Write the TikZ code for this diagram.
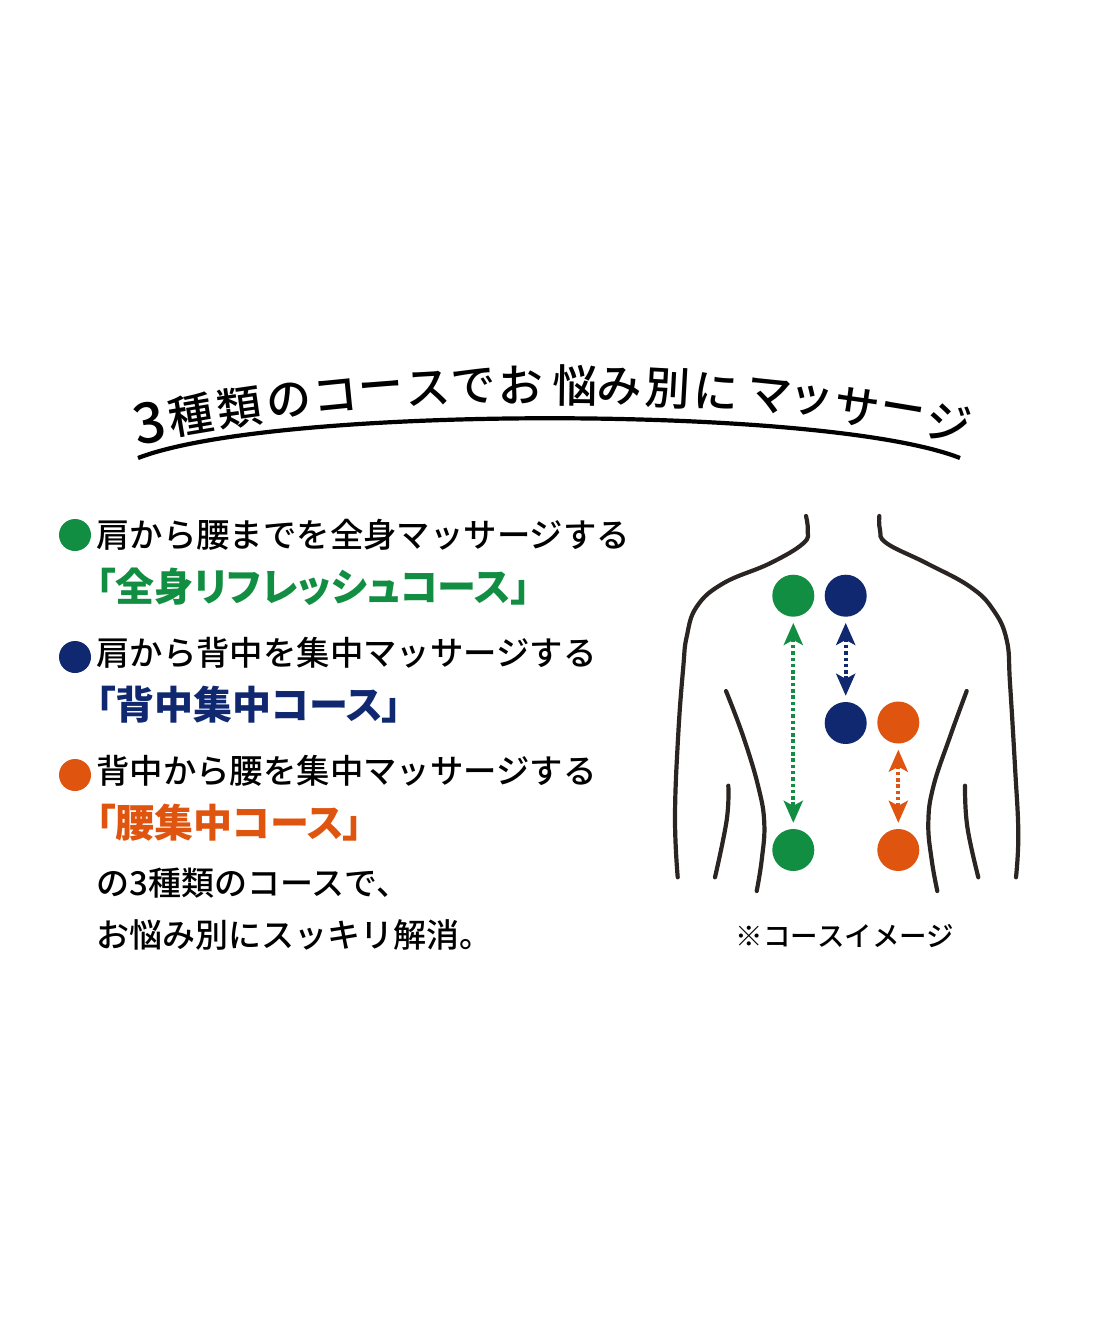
\documentclass[tikz,border=0pt]{standalone}
\usepackage{fontspec}
\usetikzlibrary{arrows.meta}
\setmainfont{Noto Sans CJK JP}
\newfontfamily\jpmed{Noto Sans CJK JP Medium}
\newfontfamily\jpbold[RawFeature={+palt}]{Noto Sans CJK JP Black}
\definecolor{coursegreen}{HTML}{128E42}
\definecolor{coursenavy}{HTML}{10286F}
\definecolor{courseorange}{HTML}{DF5510}
\definecolor{bodyline}{HTML}{2A2523}
\begin{document}
\begin{tikzpicture}[x = 1pt, y = -1pt,
    titlechar/.style = {inner sep = 0pt, font = \jpmed\fontsize{45}{46}\selectfont},
    linetext/.style = {anchor = west, inner sep = 0pt, font = \jpmed\fontsize{33.4}{34}\selectfont},
    closetext/.style = {anchor = west, inner sep = 0pt, font = \jpmed\fontsize{33}{34}\selectfont},
    coursetext/.style = {anchor = west, inner sep = 0pt, font = \jpbold\fontsize{39}{40}\selectfont},
    bullet/.style = {circle, inner sep = 0pt, minimum size = 32pt},
    spot/.style = {circle, inner sep = 0pt, minimum size = 42pt},
    moves/.style = {line width = 4pt, dash pattern = on 3.5pt off 2.8pt, shorten <= 6pt, shorten >= 6pt,
      {Stealth[length = 22pt, width = 19pt, inset = 5pt]}-{Stealth[length = 22pt, width = 19pt, inset = 5pt]}},
    body/.style = {bodyline, line width = 4.2pt, line cap = round}]
    \useasboundingbox (0, 0) rectangle (1100, 1320);

    % title on its arc
    \foreach \i/\px/\ch in {1/149/{\fontsize{56}{56}\selectfont 3}, 2/191/種, 3/239/類, 4/289/の, 5/335/コ, 6/381/ー, 7/428/ス, 8/473/で, 9/521/お,
        10/575/悩, 11/620/み, 12/668/別, 13/716/に, 14/769/マ, 15/811/ッ, 16/857/サ, 17/902/ー, 18/949/ジ} {
      \pgfmathsetmacro{\a}{asin((\px - 549) / 2164)}
      \node (title\i) [titlechar, rotate = -\a] at ({549 + 2164 * sin(\a)}, {2549 - 2164 * cos(\a)}) {\ch};
    }
    \coordinate (arcL) at (138, 458);
    \coordinate (arcR) at (960, 458);
    \draw [line width = 4.2pt] (arcL) .. controls (275, 405) and (825, 405) .. (arcR);

    % list on the left
    \node (b1) at (75, 535) [bullet, fill = coursegreen] {};
    \node (b2) at (75, 657) [bullet, fill = coursenavy] {};
    \node (b3) at (75, 775) [bullet, fill = courseorange] {};
    \node (l1) at (96, 535) [linetext] {肩から腰までを全身マッサージする};
    \node (c1) at (96, 587) [coursetext, coursegreen] {「全身リフレッシュコース」};
    \node (l2) at (96, 653) [linetext] {肩から背中を集中マッサージする};
    \node (c2) at (96, 705) [coursetext, coursenavy] {「背中集中コース」};
    \node (l3) at (96, 771) [linetext] {背中から腰を集中マッサージする};
    \node (c3) at (96, 823) [coursetext, courseorange] {「腰集中コース」};
    \node (l4) at (96, 883) [closetext] {の3種類のコースで、};
    \node (l5) at (96, 935) [closetext] {お悩み別にスッキリ解消。};

    % back
    \draw [body] plot [smooth, tension = .7] coordinates {(806, 516) (807.7, 530) (803.3, 543.3) (770, 563.3)
      (723.3, 583.3) (696.7, 606.7) (686.7, 636.7) (683.3, 666.7) (678.3, 733.3) (675, 816.7) (677.7, 877.3)};
    \draw [body] plot [smooth, tension = .7] coordinates {(879.3, 516) (880, 530) (886.7, 543.3) (926.7, 563.3)
      (970, 586.7) (993.3, 610) (1006.7, 640) (1010, 683.3) (1015, 766.7) (1018.3, 833.3) (1016, 877.3)};
    \draw [body] plot [smooth, tension = .7] coordinates {(726, 691) (743.3, 736.7) (758.3, 786.7) (764.3, 823.3)
      (761.7, 860) (756.7, 891)};
    \draw [body] plot [smooth, tension = .7] coordinates {(966.7, 691) (950, 736.7) (933.3, 786.7) (928.3, 823.3)
      (931.7, 860) (937.3, 891)};
    \draw [body] plot [smooth, tension = .7] coordinates {(728.3, 785.7) (726.7, 820) (715, 877.3)};
    \draw [body] plot [smooth, tension = .7] coordinates {(965, 785.7) (967.3, 826.7) (978.3, 877.3)};

    % spots and arrows
    \node (g1) at (793.3, 595.7) [spot, fill = coursegreen] {};
    \node (g2) at (793.3, 850) [spot, fill = coursegreen] {};
    \node (n1) at (845.7, 595.7) [spot, fill = coursenavy] {};
    \node (n2) at (845.7, 723) [spot, fill = coursenavy] {};
    \node (o1) at (898.3, 722.5) [spot, fill = courseorange] {};
    \node (o2) at (898.3, 850) [spot, fill = courseorange] {};
    \draw [moves, coursegreen] (g1)--(g2);
    \draw [moves, coursenavy] (n1)--(n2);
    \draw [moves, courseorange] (o1)--(o2);

    \node (caption) at (845, 936) [inner sep = 0pt, font = \jpmed\fontsize{27.5}{28}\selectfont] {※コースイメージ};
  \end{tikzpicture}
\end{document}
